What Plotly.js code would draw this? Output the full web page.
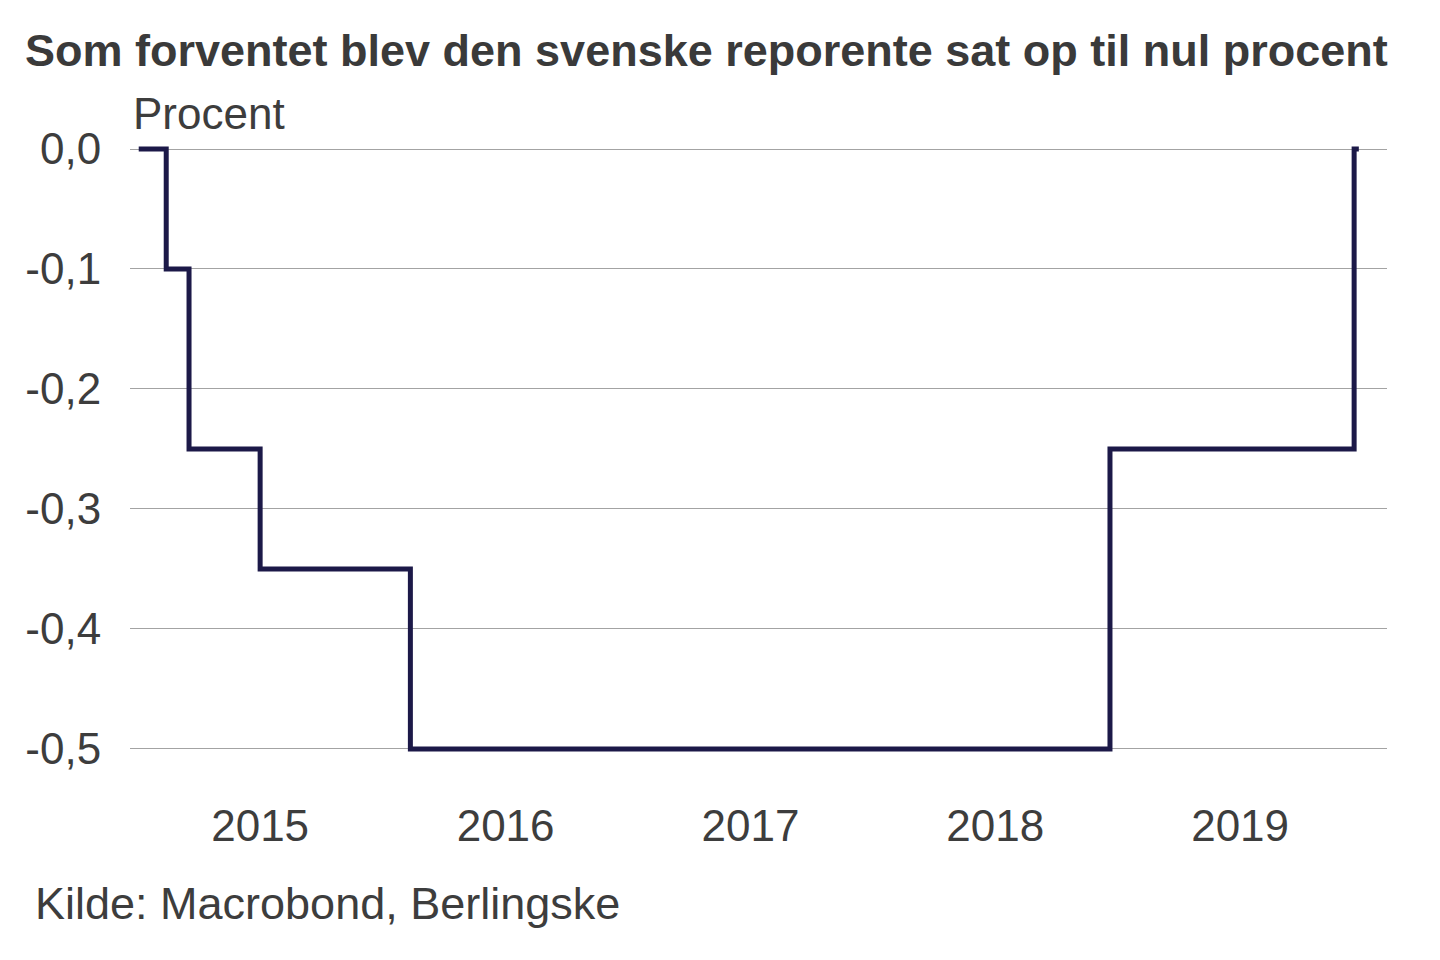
<!DOCTYPE html>
<html>
<head>
<meta charset="utf-8">
<script src="https://cdn.plot.ly/plotly-3.0.1.min.js"></script>
<style>
  html, body { margin: 0; padding: 0; background: #ffffff; }
  #chart { width: 1440px; height: 960px; }
</style>
</head>
<body>
<div id="chart"></div>
<script>
// Swedish repo rate (percent), step changes
const dates = ['2015-01-02', '2015-02-12', '2015-03-18', '2015-07-02', '2016-02-11', '2018-12-20', '2019-12-19', '2019-12-26'];
const rates = [0.00, -0.10, -0.25, -0.35, -0.50, -0.25, 0.00, 0.00];

const yTickVals = [0, -0.1, -0.2, -0.3, -0.4, -0.5];
const yTickText = ['0,0', '-0,1', '-0,2', '-0,3', '-0,4', '-0,5'];
const xTickVals = ['2015-07-02', '2016-07-02', '2017-07-02', '2018-07-02', '2019-07-02'];
const xTickText = ['2015', '2016', '2017', '2018', '2019'];

const titleText = 'Som forventet blev den svenske reporente sat op til nul procent';
const unitText = 'Procent';
const sourceText = 'Kilde: Macrobond, Berlingske';

const FONT = '"Liberation Sans", Arial, Helvetica, sans-serif';
const TXT = '#3d3d3d';

const trace = {
  x: dates,
  y: rates,
  type: 'scatter',
  mode: 'lines',
  line: { shape: 'hv', color: '#1c1948', width: 5 },
  hoverinfo: 'x+y'
};

const layout = {
  width: 1440,
  height: 960,
  paper_bgcolor: '#ffffff',
  plot_bgcolor: '#ffffff',
  margin: { l: 130, r: 53, t: 140, b: 170 },
  showlegend: false,
  font: { family: FONT, color: TXT, size: 44 },
  title: {
    text: '<b>' + titleText + '</b>',
    font: { family: FONT, size: 45, color: '#3a3a3a' },
    xref: 'container', yref: 'container',
    x: 25 / 1440, xanchor: 'left',
    y: 1 - 50 / 960, yanchor: 'middle',
    pad: { t: 0, b: 0, l: 0, r: 0 }
  },
  xaxis: {
    type: 'date',
    range: ['2014-12-20', '2020-02-06'],
    tickmode: 'array',
    tickvals: xTickVals,
    ticktext: xTickText,
    showgrid: false,
    zeroline: false,
    showline: false,
    ticks: '',
    ticklabelstandoff: 6,
    tickfont: { family: FONT, size: 44, color: TXT },
    fixedrange: true
  },
  yaxis: {
    range: [-0.5342, 0.0075],
    tickmode: 'array',
    tickvals: yTickVals,
    ticktext: yTickText,
    showgrid: true,
    gridcolor: '#a3a3a3',
    gridwidth: 1.3,
    zeroline: false,
    showline: false,
    ticks: 'outside',
    ticklen: 19,
    tickcolor: 'rgba(0,0,0,0)',
    tickfont: { family: FONT, size: 44, color: TXT },
    fixedrange: true
  },
  annotations: [
    {
      text: unitText,
      xref: 'paper', yref: 'paper',
      x: (131 - 130) / 1257, xanchor: 'left',
      y: (790 - 113) / 650, yanchor: 'middle',
      showarrow: false,
      font: { family: FONT, size: 44, color: TXT }
    },
    {
      text: sourceText,
      xref: 'paper', yref: 'paper',
      x: (33 - 130) / 1257, xanchor: 'left',
      y: (790 - 903) / 650, yanchor: 'middle',
      showarrow: false,
      font: { family: FONT, size: 45, color: TXT }
    }
  ]
};

Plotly.newPlot('chart', [trace], layout, { displayModeBar: false, staticPlot: false });
</script>
</body>
</html>
